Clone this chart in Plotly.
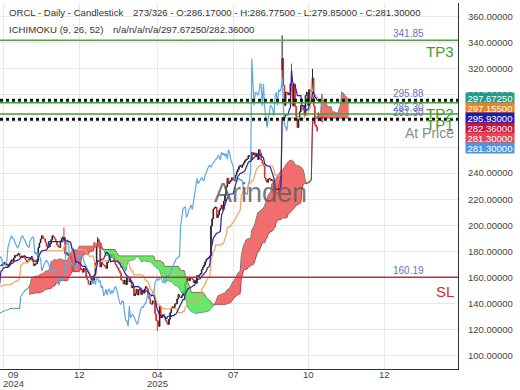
import plotly.graph_objects as go

# ---- daily closes, ORCL, 9 Jul 2024 -> 23 Oct 2025 (one list per month) ----
c_2024_07 = [142.5, 142.0, 140.5, 141.5, 142.0, 141.0, 137.5, 136.0, 137.0, 139.5, 140.0, 135.5, 135.0, 137.5, 138.0, 136.5, 139.5]
c_2024_08 = [135.0, 132.5, 128.0, 130.0, 128.5, 133.0, 134.0, 133.0, 137.0, 138.0, 140.0, 140.5, 141.0, 140.0, 140.5, 138.0, 140.0, 139.0, 140.0, 139.0, 140.0, 141.3]
c_2024_09 = [138.0, 139.0, 140.0, 137.0, 141.5, 160.0, 160.5, 164.5, 165.0, 167.0, 165.5, 164.0, 169.5, 169.0, 169.0, 170.0, 170.5, 171.5, 169.5, 170.4]
c_2024_10 = [168.5, 169.5, 172.0, 173.5, 172.5, 175.0, 177.0, 176.5, 177.5, 178.5, 176.0, 175.5, 176.5, 176.0, 175.0, 173.5, 172.0, 172.5, 174.0, 175.0, 176.0, 172.5, 169.0]
c_2024_11 = [170.0, 170.5, 172.5, 183.0, 186.5, 189.5, 192.0, 190.0, 189.5, 187.0, 184.0, 183.0, 183.5, 186.0, 189.0, 192.0, 191.0, 189.5, 187.5, 185.0]
c_2024_12 = [183.5, 183.0, 188.0, 190.0, 191.0, 190.5, 178.0, 179.0, 177.0, 178.0, 176.5, 174.0, 165.0, 168.0, 171.0, 172.0, 173.0, 172.0, 170.0, 166.0, 166.5]
c_2025_01 = [164.0, 167.0, 165.0, 160.5, 158.0, 155.0, 154.5, 157.0, 161.0, 157.5, 162.0, 171.0, 184.5, 189.0, 187.0, 168.0, 171.5, 170.0, 169.5, 168.5]
c_2025_02 = [167.0, 171.5, 173.0, 177.0, 175.5, 178.0, 176.5, 172.0, 170.0, 168.5, 167.0, 165.0, 163.5, 158.0, 157.5, 155.0, 158.0, 154.5, 160.0]
c_2025_03 = [160.0, 156.5, 157.5, 152.0, 153.5, 146.0, 147.5, 151.0, 146.5, 150.5, 151.0, 147.0, 150.0, 148.0, 151.0, 153.0, 151.5, 146.0, 143.5, 140.0, 139.5]
c_2025_04 = [142.0, 141.5, 132.0, 127.0, 126.5, 122.5, 138.0, 129.0, 131.0, 131.5, 130.0, 127.0, 125.5, 124.0, 128.0, 133.0, 136.5, 137.5, 137.0, 139.5, 140.0]
c_2025_05 = [143.5, 147.0, 145.0, 144.5, 146.0, 149.0, 148.0, 155.5, 158.0, 159.0, 157.5, 159.5, 160.0, 158.5, 156.0, 157.5, 155.5, 161.5, 160.5, 162.0, 163.0]
c_2025_06 = [166.0, 168.0, 169.5, 172.0, 174.0, 174.5, 175.5, 176.5, 199.5, 205.0, 212.5, 213.5, 214.0, 206.0, 208.0, 211.5, 213.0, 215.5, 212.0, 218.5]
c_2025_07 = [224.0, 229.5, 236.0, 232.0, 233.5, 234.5, 236.5, 235.0, 234.0, 238.5, 241.0, 243.0, 245.0, 246.0, 244.5, 246.5, 248.0, 249.5, 250.5, 251.0, 253.5, 253.0]
c_2025_08 = [250.0, 256.0, 254.0, 255.5, 253.0, 255.0, 250.5, 258.0, 255.5, 250.0, 247.5, 245.5, 236.5, 234.5, 233.0, 235.5, 236.0, 234.5, 235.0, 234.0, 226.5]
c_2025_09 = [225.5, 224.0, 223.5, 231.0, 234.5, 241.5, 328.0, 307.5, 292.0, 302.0, 302.0, 300.0, 301.0, 308.5, 308.0, 291.5, 308.5, 291.0, 283.5, 275.0, 281.0]
c_2025_10 = [287.0, 292.0, 291.0, 288.5, 284.0, 299.5, 302.0, 292.0, 304.0, 302.5, 304.5, 313.0, 291.5, 277.0, 275.5, 272.5, 281.3]

# notable bars: bar index -> (open, high, low); None = keep body value
bar_overrides = {
    19: (None, None, 125.0),
    107: (None, 198.3, None),
    136: (None, 191.0, None),
    187: (None, None, 119.0),
    288: (None, None, 219.0),
    294: (319.0, 345.7, 312.0),
    302: (None, 324.0, None),
    320: (None, 320.0, None),
    324: (None, None, 272.0),
    325: (286.17, 286.775, 279.85),
}

# horizontal levels
level_values = [341.85, 295.88, 294.0, 285.30, 281.30, 160.19]
price_tag_values = [341.85, 295.88, 285.30, 281.30, 160.19]
axis_tag_texts = ["297.67250", "297.15500", "295.93000", "282.36000", "281.30000", "281.30000"]
axis_tag_colors = ["#1e9e8e", "#f0821e", "#1c1cb4", "#c8143e", "#e8444e", "#4b95e6"]

y_ticks = list(range(100, 361, 20))
x_tick_bars = [55, 120, 187, 252, 317, 382]
x_tick_month = ["09", "12", "04", "07", "10", "12"]
x_tick_year = ["2024", "", "2025", "", "", ""]

# ---- build OHLC ----
closes = (c_2024_07 + c_2024_08 + c_2024_09 + c_2024_10 + c_2024_11 + c_2024_12 +
          c_2025_01 + c_2025_02 + c_2025_03 + c_2025_04 + c_2025_05 + c_2025_06 +
          c_2025_07 + c_2025_08 + c_2025_09 + c_2025_10)
n = len(closes)
bars = list(range(n))
opens = [closes[0]] + closes[:-1]
for i, (o, h, l) in bar_overrides.items():
    if o is not None:
        opens[i] = o
highs = [max(o, c) for o, c in zip(opens, closes)]
lows = [min(o, c) for o, c in zip(opens, closes)]
for i, (o, h, l) in bar_overrides.items():
    if h is not None:
        highs[i] = max(h, highs[i])
    if l is not None:
        lows[i] = min(l, lows[i])

# ---- Ichimoku (9, 26, 52) ----
def mid(i, p):
    return (max(highs[i - p + 1:i + 1]) + min(lows[i - p + 1:i + 1])) / 2

tenkan = {i: mid(i, 9) for i in range(8, n)}
kijun = {i: mid(i, 26) for i in range(25, n)}
spanA = {i + 26: (tenkan[i] + kijun[i]) / 2 for i in range(25, n)}
spanB = {i + 26: mid(i, 52) for i in range(51, n)}
chikou = {i - 26: closes[i] for i in range(26, n)}

fig = go.Figure()

kA = sorted(spanA)
kB = sorted(spanB)
fig.add_trace(go.Scatter(x=kA, y=[spanA[k] for k in kA], mode="lines",
                         line=dict(color="#3a9d8a", width=1)))
fig.add_trace(go.Scatter(x=kB, y=[spanB[k] for k in kB], mode="lines",
                         line=dict(color="#b02048", width=1)))

# cloud polygons
xs = kB
a = [spanA[k] for k in xs]
b = [spanB[k] for k in xs]
polys = []
cx, ca, cb = [xs[0]], [a[0]], [b[0]]
sign = a[0] >= b[0]
for k in range(1, len(xs)):
    s = a[k] >= b[k]
    if s != sign:
        d0 = a[k - 1] - b[k - 1]
        d1 = a[k] - b[k]
        t = d0 / (d0 - d1)
        xc = xs[k - 1] + t * (xs[k] - xs[k - 1])
        yc = a[k - 1] + t * (a[k] - a[k - 1])
        cx.append(xc); ca.append(yc); cb.append(yc)
        polys.append((sign, cx, ca, cb))
        cx, ca, cb = [xc], [yc], [yc]
        sign = s
    cx.append(xs[k]); ca.append(a[k]); cb.append(b[k])
polys.append((sign, cx, ca, cb))
for sg, px, pa, pb in polys:
    fig.add_trace(go.Scatter(x=px + px[::-1], y=pa + pb[::-1], mode="lines",
                             fill="toself", line=dict(width=0),
                             fillcolor="rgba(238,78,78,0.82)" if sg else "rgba(70,222,70,0.8)"))

kc = sorted(chikou)
fig.add_trace(go.Scatter(x=kc, y=[chikou[k] for k in kc], mode="lines",
                         line=dict(color="#5ea8e4", width=1.2)))
kk = sorted(kijun)
fig.add_trace(go.Scatter(x=kk, y=[kijun[k] for k in kk], mode="lines",
                         line=dict(color="#f2a25a", width=1.2)))
fig.add_trace(go.Candlestick(x=bars, open=opens, high=highs, low=lows, close=closes,
                             increasing=dict(line=dict(color="#222222", width=1), fillcolor="#222222"),
                             decreasing=dict(line=dict(color="#d03030", width=1), fillcolor="#d03030"),
                             whiskerwidth=0))
kt = sorted(tenkan)
fig.add_trace(go.Scatter(x=kt, y=[tenkan[k] for k in kt], mode="lines",
                         line=dict(color="#2a22a0", width=1.2)))
fig.add_trace(go.Scatter(x=[n + 1.5], y=[closes[-1]], mode="markers",
                         marker=dict(symbol="triangle-left", size=6, color="#e02020")))

# ---- layout ----
W, H = 520, 390
ml, mr, mt, mb = 0, 62, 3, 21
pw, ph = W - ml - mr, H - mt - mb

def py(pix):  # pixel row -> paper y
    return (H - mb - pix) / ph

def px_(pix):
    return (pix - ml) / pw

shapes = []
styles = {341.85: ("#5c9a4c", 1.5, "solid"), 295.88: ("#111111", 3, "dot"),
          294.0: ("#3fa03a", 1.5, "solid"), 285.30: ("#3fa03a", 1.5, "solid"),
          281.30: ("#111111", 3, "dot"), 160.19: ("#c43030", 1.5, "solid")}
for v in level_values:
    col, w, d = styles[v]
    shapes.append(dict(type="line", xref="paper", x0=0, x1=1, yref="y", y0=v, y1=v,
                       line=dict(color=col, width=w, dash=d)))

ann = []
for v in price_tag_values:
    ann.append(dict(text=f"{v:.2f}", xref="paper", x=px_(425), xanchor="right",
                    yref="y", y=v, yanchor="bottom", showarrow=False, borderpad=0,
                    font=dict(size=10, color="#5f73c8")))
name_tags = [("TP3", 341.85, "#3d9b35", 15, -2), ("TP2", 294.0, "#3d9b35", 15, -1),
             ("TP1", 285.30, "#3d9b35", 15, -1), ("At Price", 281.30, "#8a8a8a", 14, -5),
             ("SL", 160.19, "#c8302c", 15, -5)]
for t, v, col, fs, ys in name_tags:
    ann.append(dict(text=t, xref="paper", x=px_(455), xanchor="right", yref="y", y=v,
                    yanchor="top", yshift=ys, showarrow=False, borderpad=0,
                    font=dict(size=fs, color=col)))

top_pix = 16.7 + (360 - 297.6725) * 1.3038
for k, (t, col) in enumerate(zip(axis_tag_texts, axis_tag_colors)):
    ann.append(dict(text=t, xref="paper", x=px_(465), xanchor="left",
                    yref="paper", y=py(top_pix + 10 * k), yanchor="middle",
                    width=48, height=10, bgcolor=col, borderpad=0, showarrow=False,
                    font=dict(size=9.5, color="white")))

for xv, mo, yr in zip(x_tick_bars, x_tick_month, x_tick_year):
    first = xv == x_tick_bars[0]
    shift = 10 if first else 0
    ann.append(dict(text=mo, xref="x", x=xv, xanchor="center", xshift=shift,
                    yref="paper", y=py(374.5), yanchor="middle", showarrow=False,
                    borderpad=0, font=dict(size=9.5, color="#444444")))
    if yr:
        ann.append(dict(text=yr, xref="x", x=xv, xanchor="center", xshift=shift,
                        yref="paper", y=py(383.5), yanchor="middle", showarrow=False,
                        borderpad=0, font=dict(size=9.5, color="#444444")))

hdr = dict(size=9.6, color="#333333")
ann += [
    dict(text="ORCL - Daily - Candlestick", xref="paper", x=px_(8), xanchor="left",
         yref="paper", y=py(12.5), yanchor="middle", showarrow=False, font=hdr, borderpad=0),
    dict(text="273/326 - O:286.17000 - H:286.77500 - L:279.85000 - C:281.30000", xref="paper",
         x=px_(132), xanchor="left", yref="paper", y=py(12.5), yanchor="middle",
         showarrow=False, font=hdr, borderpad=0),
    dict(text="ICHIMOKU (9, 26, 52)", xref="paper", x=px_(8), xanchor="left",
         yref="paper", y=py(29.5), yanchor="middle", showarrow=False, font=hdr, borderpad=0),
    dict(text="n/a/n/a/n/a/297.67250/282.36000", xref="paper", x=px_(112), xanchor="left",
         yref="paper", y=py(29.5), yanchor="middle", showarrow=False, font=hdr, borderpad=0),
    dict(text="Arinden", xref="paper", x=px_(260), xanchor="center", yref="paper",
         y=py(192.5), yanchor="middle", showarrow=False,
         font=dict(size=27, color="rgba(95,95,95,0.85)")),
]

x_left = 52.2
x_right = 444.7
fig.update_layout(
    width=W, height=H, margin=dict(l=ml, r=mr, t=mt, b=mb),
    paper_bgcolor="white", plot_bgcolor="white", showlegend=False,
    font=dict(family="Liberation Sans, Arial, sans-serif"),
    shapes=shapes, annotations=ann,
    xaxis=dict(range=[x_left, x_right], tickvals=x_tick_bars, showticklabels=False,
               showgrid=True, gridcolor="#e8e8e8", gridwidth=1, zeroline=False,
               showline=True, linecolor="#333333", linewidth=1, ticks="",
               rangeslider=dict(visible=False)),
    yaxis=dict(side="right", range=[89.8, 370.5], tickvals=y_ticks, tickformat=".5f",
               tickfont=dict(size=9.5, color="#444444"), ticks="outside", ticklen=7,
               tickcolor="rgba(0,0,0,0)", showgrid=True, gridcolor="#e8e8e8",
               zeroline=False, showline=True, linecolor="#333333", linewidth=1),
    hovermode=False,
)

fig.write_html("out.html")
